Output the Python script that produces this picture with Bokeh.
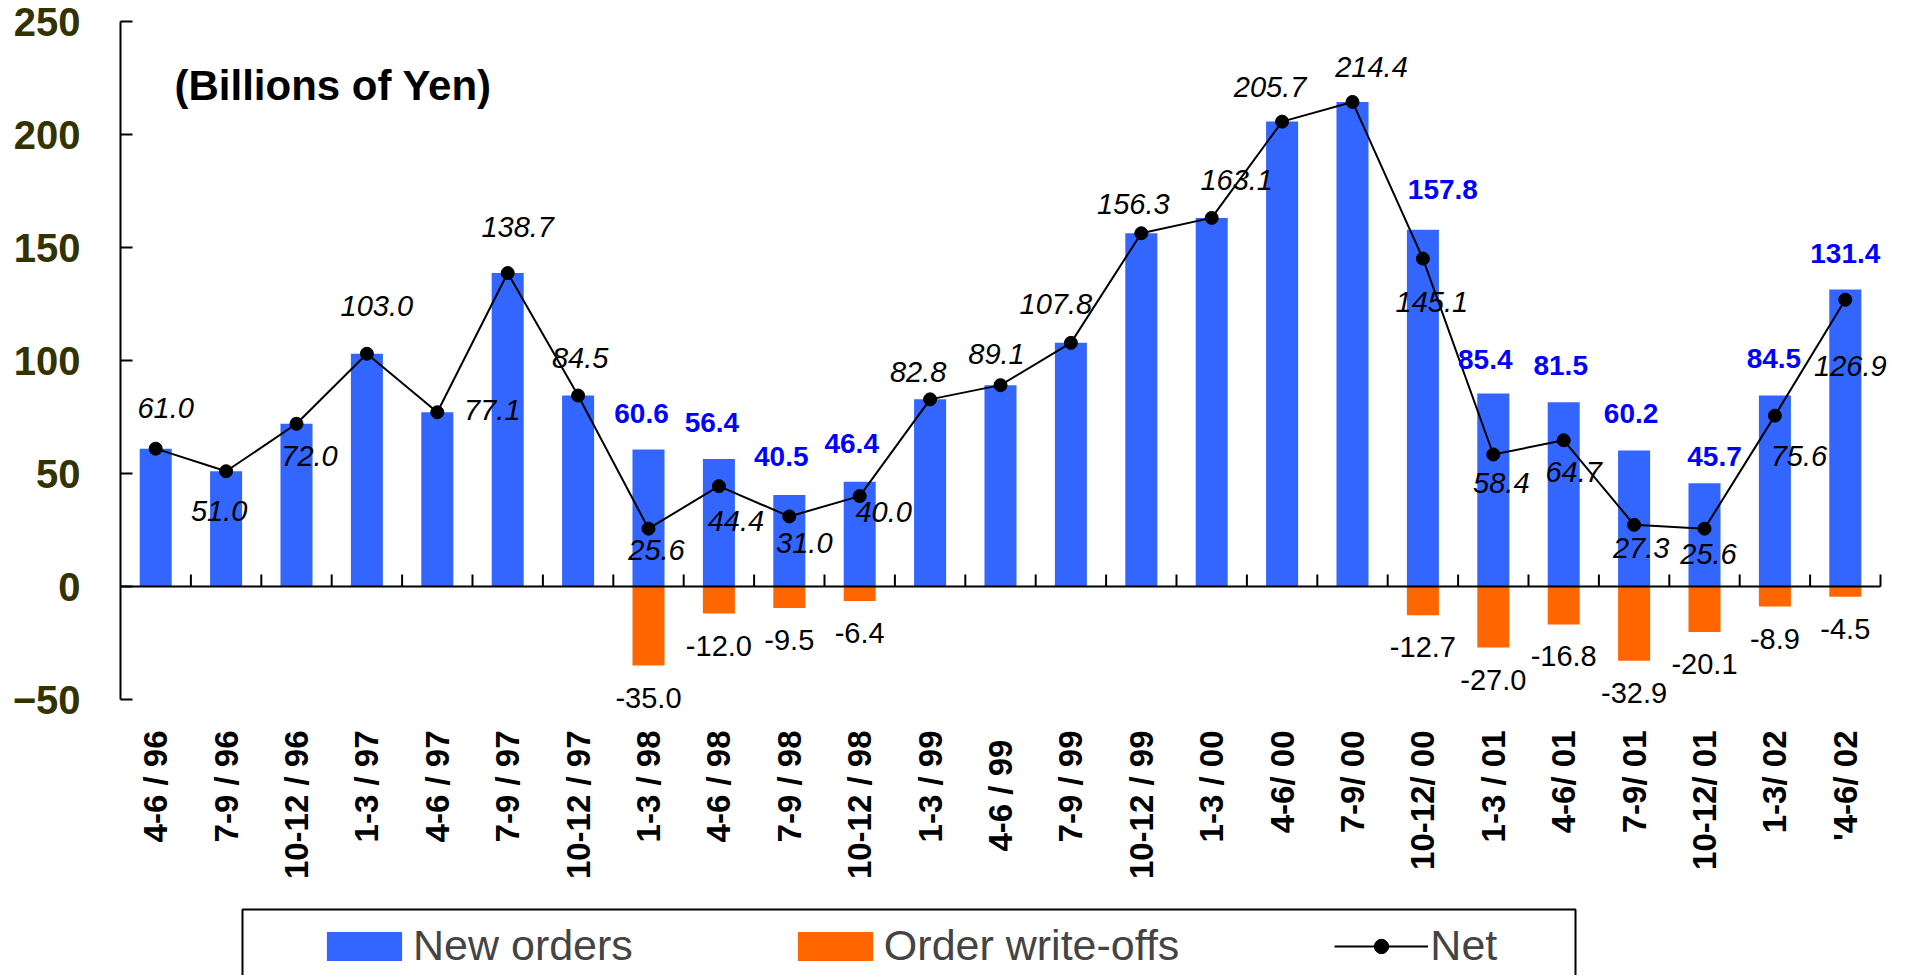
import math
from bokeh.plotting import figure
from bokeh.models import (Range1d, FixedTicker, ColumnDataSource,
                          Label, Legend, LegendItem, BoxAnnotation)
from bokeh.embed import file_html
from bokeh.resources import INLINE
from bokeh.core.properties import value

# ---------------- data ----------------
periods = ["4-6 / 96", "7-9 / 96", "10-12 / 96", "1-3 / 97", "4-6 / 97", "7-9 / 97",
           "10-12 / 97", "1-3 / 98", "4-6 / 98", "7-9 / 98", "10-12 / 98", "1-3 / 99",
           "4-6  / 99", "7-9 / 99", "10-12 / 99", "1-3 / 00", "4-6/ 00", "7-9/ 00",
           "10-12/ 00", "1-3 / 01", "4-6/ 01", "7-9/ 01", "10-12/ 01", "1-3/ 02", "'4-6/ 02"]
new_orders = [61.0, 51.0, 72.0, 103.0, 77.1, 138.7, 84.5, 60.6, 56.4, 40.5, 46.4, 82.8,
              89.1, 107.8, 156.3, 163.1, 205.7, 214.4, 157.8, 85.4, 81.5, 60.2, 45.7, 84.5, 131.4]
write_offs = [0, 0, 0, 0, 0, 0, 0, -35.0, -12.0, -9.5, -6.4, 0,
              0, 0, 0, 0, 0, 0, -12.7, -27.0, -16.8, -32.9, -20.1, -8.9, -4.5]
net = [61.0, 51.0, 72.0, 103.0, 77.1, 138.7, 84.5, 25.6, 44.4, 31.0, 40.0, 82.8,
       89.1, 107.8, 156.3, 163.1, 205.7, 214.4, 145.1, 58.4, 64.7, 27.3, 25.6, 75.6, 126.9]
y_ticks = [-50, 0, 50, 100, 150, 200, 250]

# label placement offsets in screen pixels (layout only)
net_dx = [10, -7, 13, 10, 55, 10, 2, 8, 17, 15, 24, -12, -4, -15, -8, 25, -12, 19, 9, 8, 10, 7, 4, 24, 5]
net_dy = [-41, 40, 32, -48, -2, -46, -38, 21, 35, 27, 16, -27, -31, -39, -29, -38, -35, -35, 43, 28, 32, 23, 25, 40, 66]
new_dx = [0, 0, 0, 0, 0, 0, 0, -7, -7, -8, -8, 0, 0, 0, 0, 0, 0, 0, 20, -8, -3, -3, 10, -1, 0]
new_dy = [0, 0, 0, 0, 0, 0, 0, -36, -37, -38, -38, 0, 0, 0, 0, 0, 0, 0, -40, -34, -37, -37, -27, -37, -36]

FONT = "Liberation Sans"
BLUE = "#3366FF"
ORANGE = "#FF6600"

# ---------------- geometry (pixels) ----------------
W, H = 1900, 975
LEFT, TOP = 120, 21            # frame origin on canvas
CAT_PX = 70.4                  # width of one category
AXIS_BOTTOM_PX = 699           # canvas y of the -50 end of the value axis
Y_LO, Y_HI = y_ticks[0], y_ticks[-1]
PX_PER_UNIT = (AXIS_BOTTOM_PX - TOP) / float(Y_HI - Y_LO)
n = len(periods)
x_end = (W - LEFT) / CAT_PX
y_min = Y_LO - (H - AXIS_BOTTOM_PX) / PX_PER_UNIT

p = figure(x_range=Range1d(0, x_end), y_range=Range1d(y_min, Y_HI),
           width=W, height=H, output_backend="svg", toolbar_location=None,
           x_axis_location=None,
           min_border_left=LEFT, min_border_right=0, min_border_top=TOP, min_border_bottom=0)
p.outline_line_color = None
p.xgrid.grid_line_color = None
p.ygrid.grid_line_color = None

# y axis
p.yaxis.ticker = FixedTicker(ticks=y_ticks)
p.yaxis.bounds = (Y_LO, Y_HI)
p.yaxis.major_tick_in = 12
p.yaxis.major_tick_out = 0
p.yaxis.minor_tick_line_color = None
p.yaxis.axis_line_width = 2
p.yaxis.major_tick_line_width = 2
p.yaxis.major_label_standoff = 40
p.yaxis.major_label_text_font = FONT
p.yaxis.major_label_text_font_size = "40px"
p.yaxis.major_label_text_font_style = "bold"
p.yaxis.major_label_text_color = "#333300"

xc = [i + 0.5 for i in range(n)]
src = ColumnDataSource(dict(x=xc, period=periods, new=new_orders, wo=write_offs, net=net,
                            net_lbl=["%.1f" % v for v in net],
                            ndx=net_dx, ndy=net_dy))

r_new = p.vbar(x="x", top="new", bottom=0, width=0.455, fill_color=BLUE,
               line_color=None, source=src)
r_wo = p.vbar(x="x", top=0, bottom="wo", width=0.455, fill_color=ORANGE,
              line_color=None, source=src)

# category axis along zero, with boundary ticks pointing up
p.segment(x0=[0], x1=[n], y0=[0], y1=[0], line_color="black", line_width=2)
bx = list(range(1, n + 1))
p.segment(x0=bx, x1=bx, y0=[0] * n, y1=[12 / PX_PER_UNIT] * n,
          line_color="black", line_width=2)

# category labels under the value axis
p.text(x="x", y=Y_LO, text="period", source=src, angle=math.pi / 2, y_offset=31,
       text_font=value(FONT), text_font_size="33px", text_font_style="bold",
       text_color="black", text_align="right", text_baseline="middle")

r_line = p.line(x="x", y="net", line_color="black", line_width=2, source=src)
r_dot = p.scatter(x="x", y="net", size=13, fill_color="black", line_color="black",
                  source=src)

# net labels
p.text(x="x", y="net", text="net_lbl", x_offset="ndx", y_offset="ndy", source=src,
       text_font=value(FONT), text_font_size="29px", text_font_style="italic",
       text_color="black", text_align="center", text_baseline="middle")

idx = [i for i, w in enumerate(write_offs) if w != 0]
src_wo = ColumnDataSource(dict(
    x=[xc[i] for i in idx],
    new=[new_orders[i] for i in idx],
    wo=[write_offs[i] for i in idx],
    new_lbl=["%.1f" % new_orders[i] for i in idx],
    wo_lbl=["%.1f" % write_offs[i] for i in idx],
    dx=[new_dx[i] for i in idx],
    dy=[new_dy[i] for i in idx],
))
p.text(x="x", y="new", text="new_lbl", x_offset="dx", y_offset="dy", source=src_wo,
       text_font=value(FONT), text_font_size="28px", text_font_style="bold",
       text_color="#0000FF", text_align="center", text_baseline="middle")
p.text(x="x", y="wo", text="wo_lbl", y_offset=32, source=src_wo,
       text_font=value(FONT), text_font_size="29px", text_font_style="normal",
       text_color="black", text_align="center", text_baseline="middle")

# unit label
p.add_layout(Label(x=54, y=H - 85, x_units="screen", y_units="screen",
                   text="(Billions of Yen)",
                   text_font=FONT, text_font_size="42px", text_font_style="bold",
                   text_color="black", text_align="left", text_baseline="middle"))

# legend frame (open at the bottom edge of the page)
p.add_layout(BoxAnnotation(left=(242 - LEFT) / CAT_PX, right=(1575 - LEFT) / CAT_PX,
                           top=Y_LO - (909 - AXIS_BOTTOM_PX) / PX_PER_UNIT,
                           bottom=y_min - 10,
                           fill_color=None, fill_alpha=0, line_color="black",
                           line_alpha=1.0, line_width=2))

legend = Legend(items=[LegendItem(label="New orders", renderers=[r_new]),
                       LegendItem(label="Order write-offs", renderers=[r_wo]),
                       LegendItem(label="Net", renderers=[r_line, r_dot])],
                orientation="horizontal", location=(197, 5), padding=0, margin=0,
                spacing=155, glyph_width=94, glyph_height=36, label_standoff=2,
                label_text_font=FONT, label_text_font_size="43px",
                border_line_alpha=0, background_fill_alpha=0)
p.add_layout(legend)

open("out.html", "w").write(file_html(p, INLINE))
